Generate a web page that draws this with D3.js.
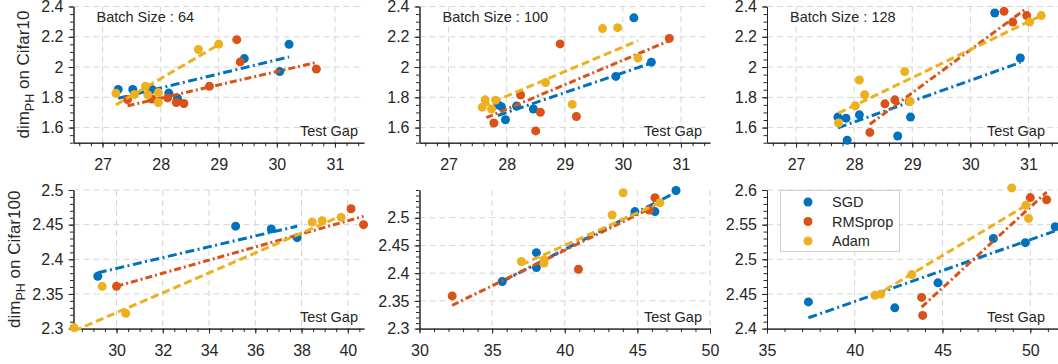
<!DOCTYPE html>
<html>
<head>
<meta charset="utf-8">
<script src="https://cdn.jsdelivr.net/npm/d3@7"></script>
<style>
  body { margin: 0; background: #fff; }
  svg { display: block; font-family: "Liberation Sans", Arial, Helvetica, sans-serif; }
</style>
</head>
<body>
<script>
'use strict';

const seriesNames = ['SGD', 'RMSprop', 'Adam'];
const seriesColors = ['#0072BD', '#D95319', '#EDB120'];
const batchLabels = ['Batch Size : 64', 'Batch Size : 100', 'Batch Size : 128'];
const rowLabels = ['Cifar10', 'Cifar100'];

// tick labels
const xTicksTop = [27, 28, 29, 30, 31];
const yTicksTop = [1.6, 1.8, 2, 2.2, 2.4];
const xTicks64c = [30, 32, 34, 36, 38, 40];
const xTicks100c = [30, 35, 40, 45, 50];
const xTicks128c = [35, 40, 45, 50];
const yTicks64c = [2.3, 2.35, 2.4, 2.45, 2.5];
const yTicks100c = [2.3, 2.35, 2.4, 2.45, 2.5];
const yTicks128c = [2.4, 2.45, 2.5, 2.55, 2.6];

// Cifar10, batch 64  [test gap, dimPH]
const sgd64 = [[27.27, 1.852], [27.52, 1.852], [27.85, 1.852], [28.14, 1.828], [28.29, 1.794], [29.44, 2.056], [30.05, 1.97], [30.21, 2.15]];
const rms64 = [[27.43, 1.785], [27.85, 1.789], [28.12, 1.796], [28.27, 1.766], [28.4, 1.759], [28.84, 1.873], [29.31, 2.181], [29.37, 2.034], [30.68, 1.987]];
const adam64 = [[27.23, 1.826], [27.55, 1.819], [27.74, 1.873], [27.78, 1.817], [27.96, 1.832], [27.96, 1.766], [28.65, 2.116], [29.0, 2.151]];
const fitSgd64 = [[27.27, 1.794], [30.21, 2.067]];
const fitRms64 = [[27.43, 1.744], [30.68, 2.03]];
const fitAdam64 = [[27.23, 1.75], [29.0, 2.148]];

// Cifar10, batch 100
const sgd100 = [[27.85, 1.751], [27.91, 1.738], [27.98, 1.652], [28.17, 1.742], [28.46, 1.723], [29.88, 1.938], [30.19, 2.325], [30.49, 2.032]];
const rms100 = [[27.78, 1.63], [28.24, 1.815], [28.5, 1.578], [28.58, 1.701], [28.92, 2.153], [29.2, 1.673], [30.8, 2.189]];
const adam100 = [[27.58, 1.735], [27.63, 1.783], [27.74, 1.723], [27.81, 1.781], [28.67, 1.897], [29.13, 1.753], [29.65, 2.254], [29.91, 2.26], [30.26, 2.06]];
const fitSgd100 = [[27.85, 1.68], [30.49, 2.026]];
const fitRms100 = [[27.65, 1.665], [30.8, 2.174]];
const fitAdam100 = [[27.58, 1.74], [30.26, 2.174]];

// Cifar10, batch 128
const sgd128 = [[27.72, 1.669], [27.86, 1.662], [27.88, 1.516], [28.09, 1.684], [28.75, 1.544], [28.97, 1.669], [30.42, 2.357], [30.86, 2.06]];
const rms128 = [[28.27, 1.568], [28.53, 1.757], [28.7, 1.783], [28.95, 1.772], [30.58, 2.368], [30.73, 2.297], [30.97, 2.34]];
const adam128 = [[27.73, 1.63], [28.02, 1.744], [28.09, 1.914], [28.18, 1.817], [28.87, 1.97], [28.96, 1.772], [31.02, 2.297], [31.22, 2.34]];
const fitSgd128 = [[27.72, 1.598], [30.86, 2.03]];
const fitRms128 = [[28.27, 1.622], [30.97, 2.389]];
const fitAdam128 = [[27.73, 1.695], [31.22, 2.34]];

// Cifar100, batch 64
const sgd64c = [[29.19, 2.3756], [35.15, 2.4478], [36.69, 2.4439], [37.81, 2.4312]];
const rms64c = [[30.0, 2.361], [40.14, 2.473], [40.68, 2.45]];
const adam64c = [[28.16, 2.3015], [29.38, 2.361], [30.4, 2.322], [38.46, 2.4537], [38.89, 2.4556], [39.71, 2.4605]];
const fitSgd64c = [[29.19, 2.3805], [37.81, 2.4478]];
const fitRms64c = [[30.0, 2.361], [40.68, 2.462]];
const fitAdam64c = [[28.16, 2.2966], [39.71, 2.4624]];

// Cifar100, batch 100
const sgd100c = [[35.7, 2.385], [38.05, 2.437], [38.05, 2.41], [44.83, 2.511], [46.21, 2.511], [47.66, 2.549]];
const rms100c = [[32.25, 2.359], [40.94, 2.407], [45.82, 2.514], [46.21, 2.536]];
const adam100c = [[37.01, 2.421], [38.57, 2.424], [38.57, 2.418], [43.26, 2.505], [44.02, 2.545], [46.55, 2.527]];
const fitSgd100c = [[35.7, 2.385], [47.66, 2.546]];
const fitRms100c = [[32.25, 2.342], [46.21, 2.521]];
const fitAdam100c = [[37.01, 2.415], [46.55, 2.527]];

// Cifar100, batch 128
const sgd128c = [[37.36, 2.4385], [42.28, 2.43], [44.74, 2.466], [47.9, 2.53], [49.72, 2.524], [51.42, 2.547]];
const rms128c = [[43.81, 2.445], [43.87, 2.419], [50.0, 2.589], [50.93, 2.586]];
const adam128c = [[41.15, 2.448], [41.49, 2.45], [43.25, 2.478], [48.94, 2.603], [49.75, 2.578], [49.9, 2.559]];
const fitSgd128c = [[37.36, 2.4156], [51.42, 2.541]];
const fitRms128c = [[43.81, 2.431], [50.93, 2.597]];
const fitAdam128c = [[41.15, 2.447], [49.9, 2.58]];

// layout
const width = 1058, height = 364;
const colLeft = [73.5, 419.5, 767];
const colWidth = 290.5;
const rowTop = [6.5, 190];
const rowHeight = [136.2, 138.6];
const testGapRight = [358, 702, 1045];
const axisColor = '#262626';
const gridColor = '#d6d6d6';
const dashes = ['9,3.5,2,3.5', '7,3,2,3', '8,4'];

const panels = [
  {row: 0, col: 0, xDom: [26.5, 31.5], yDom: [1.5, 2.4], xTicks: xTicksTop, yTicks: yTicksTop, xMinor: 0.2, yMinor: 0.05,
   pts: [sgd64, rms64, adam64], fits: [fitSgd64, fitRms64, fitAdam64]},
  {row: 0, col: 1, xDom: [26.5, 31.5], yDom: [1.5, 2.4], xTicks: xTicksTop, yTicks: yTicksTop, xMinor: 0.2, yMinor: 0.05,
   pts: [sgd100, rms100, adam100], fits: [fitSgd100, fitRms100, fitAdam100]},
  {row: 0, col: 2, xDom: [26.5, 31.5], yDom: [1.5, 2.4], xTicks: xTicksTop, yTicks: yTicksTop, xMinor: 0.2, yMinor: 0.05,
   pts: [sgd128, rms128, adam128], fits: [fitSgd128, fitRms128, fitAdam128]},
  {row: 1, col: 0, xDom: [28.14, 40.7], yDom: [2.3, 2.5], xTicks: xTicks64c, yTicks: yTicks64c, xMinor: 0.5, yMinor: 0.01,
   pts: [sgd64c, rms64c, adam64c], fits: [fitSgd64c, fitRms64c, fitAdam64c]},
  {row: 1, col: 1, xDom: [30, 50], yDom: [2.3, 2.55], xTicks: xTicks100c, yTicks: yTicks100c, xMinor: 1, yMinor: 0.01,
   pts: [sgd100c, rms100c, adam100c], fits: [fitSgd100c, fitRms100c, fitAdam100c]},
  {row: 1, col: 2, xDom: [35, 51.55], yDom: [2.4, 2.6], xTicks: xTicks128c, yTicks: yTicks128c, xMinor: 1, yMinor: 0.01,
   pts: [sgd128c, rms128c, adam128c], fits: [fitSgd128c, fitRms128c, fitAdam128c]}
];

const svg = d3.select('body').append('svg')
  .attr('width', width)
  .attr('height', height);

function minorTicks(dom, step) {
  let k0 = Math.ceil(dom[0] / step - 1e-6);
  let k1 = Math.floor(dom[1] / step + 1e-6);
  return d3.range(k0, k1 + 1).map((k) => +(k * step).toFixed(4));
}

function styleAxis(g) {
  g.attr('font-family', null).attr('font-size', null);
  g.selectAll('path, line').attr('stroke', axisColor).attr('stroke-width', 1);
  g.selectAll('text').attr('fill', axisColor).style('font-size', '16px');
}

function drawPanel(p) {
  let x0 = colLeft[p.col];
  let y0 = rowTop[p.row];
  let h = rowHeight[p.row];
  let x = d3.scaleLinear().domain(p.xDom).range([x0, x0 + colWidth]);
  let y = d3.scaleLinear().domain(p.yDom).range([y0 + h, y0]);
  let g = svg.append('g');

  // grid
  g.selectAll('.gx').data(p.xTicks.filter((d) => d > p.xDom[0]))
    .enter().append('line')
      .attr('x1', (d) => x(d)).attr('x2', (d) => x(d))
      .attr('y1', y0).attr('y2', y0 + h)
      .attr('stroke', gridColor)
      .attr('stroke-dasharray', '6,4');
  g.selectAll('.gy').data(p.yTicks.filter((d) => d > p.yDom[0]))
    .enter().append('line')
      .attr('x1', x0).attr('x2', x0 + colWidth)
      .attr('y1', (d) => y(d)).attr('y2', (d) => y(d))
      .attr('stroke', gridColor)
      .attr('stroke-dasharray', '6,4');

  // axes, minor then major
  g.append('g')
    .attr('transform', 'translate(0,' + (y0 + h) + ')')
    .call(d3.axisBottom(x).tickValues(minorTicks(p.xDom, p.xMinor)).tickSize(3.5).tickSizeOuter(0).tickFormat(''))
    .call(styleAxis);
  g.append('g')
    .attr('transform', 'translate(0,' + (y0 + h) + ')')
    .call(d3.axisBottom(x).tickValues(p.xTicks).tickSize(5).tickSizeOuter(0).tickPadding(11).tickFormat((d) => String(d)))
    .call(styleAxis);
  g.append('g')
    .attr('transform', 'translate(' + x0 + ',0)')
    .call(d3.axisLeft(y).tickValues(minorTicks(p.yDom, p.yMinor)).tickSize(3.5).tickSizeOuter(0).tickFormat(''))
    .call(styleAxis);
  g.append('g')
    .attr('transform', 'translate(' + x0 + ',0)')
    .call(d3.axisLeft(y).tickValues(p.yTicks).tickSize(5).tickSizeOuter(0).tickPadding(5).tickFormat((d) => String(d)))
    .call(styleAxis);

  // data
  let line = d3.line().x((d) => x(d[0])).y((d) => y(d[1]));
  p.pts.forEach((pts, i) => {
    g.selectAll('.dot' + i).data(pts)
      .enter().append('circle')
        .attr('cx', (d) => x(d[0]))
        .attr('cy', (d) => y(d[1]))
        .attr('r', 4.5)
        .attr('fill', seriesColors[i]);
    g.append('path')
      .datum(p.fits[i])
      .attr('fill', 'none')
      .attr('stroke', seriesColors[i])
      .attr('stroke-width', 3)
      .attr('stroke-dasharray', dashes[i])
      .attr('d', line);
  });

  // texts
  g.append('text')
    .attr('x', testGapRight[p.col])
    .attr('y', y0 + h - 7)
    .attr('text-anchor', 'end')
    .attr('fill', axisColor)
    .style('font-size', '14.5px')
    .text('Test Gap');

  if (p.row == 0) {
    g.append('text')
      .attr('x', x0 + 23)
      .attr('y', 22)
      .attr('fill', axisColor)
      .style('font-size', '14.5px')
      .text(batchLabels[p.col]);
  }

  if (p.col == 0) {
    let lx = p.row == 0 ? 29 : 19.5;
    let t = g.append('text')
      .attr('transform', 'translate(' + lx + ',' + (y0 + h / 2) + ')rotate(-90)')
      .attr('text-anchor', 'middle')
      .attr('fill', axisColor)
      .style('font-size', '17px');
    t.append('tspan').text('dim');
    t.append('tspan').attr('dy', 5).style('font-size', '12.5px').text('PH');
    t.append('tspan').attr('dy', -5).text(' on ' + rowLabels[p.row]);
  }

  if (p.row == 1 && p.col == 2) {
    makeLegend(x0);
  }
}

function makeLegend(x0) {
  let lg = svg.append('g');
  lg.append('rect')
    .attr('x', x0 + 13.5).attr('y', 190.5)
    .attr('width', 119).attr('height', 61)
    .attr('fill', '#fff')
    .attr('stroke', '#cfcfcf');
  seriesNames.forEach((name, i) => {
    let cy = 202 + i * 19.5;
    lg.append('circle')
      .attr('cx', x0 + 41).attr('cy', cy)
      .attr('r', 4.5)
      .attr('fill', seriesColors[i]);
    lg.append('text')
      .attr('x', x0 + 65).attr('y', cy + 5)
      .attr('fill', axisColor)
      .style('font-size', '14.5px')
      .text(name);
  });
}

panels.forEach(drawPanel);
</script>
</body>
</html>
